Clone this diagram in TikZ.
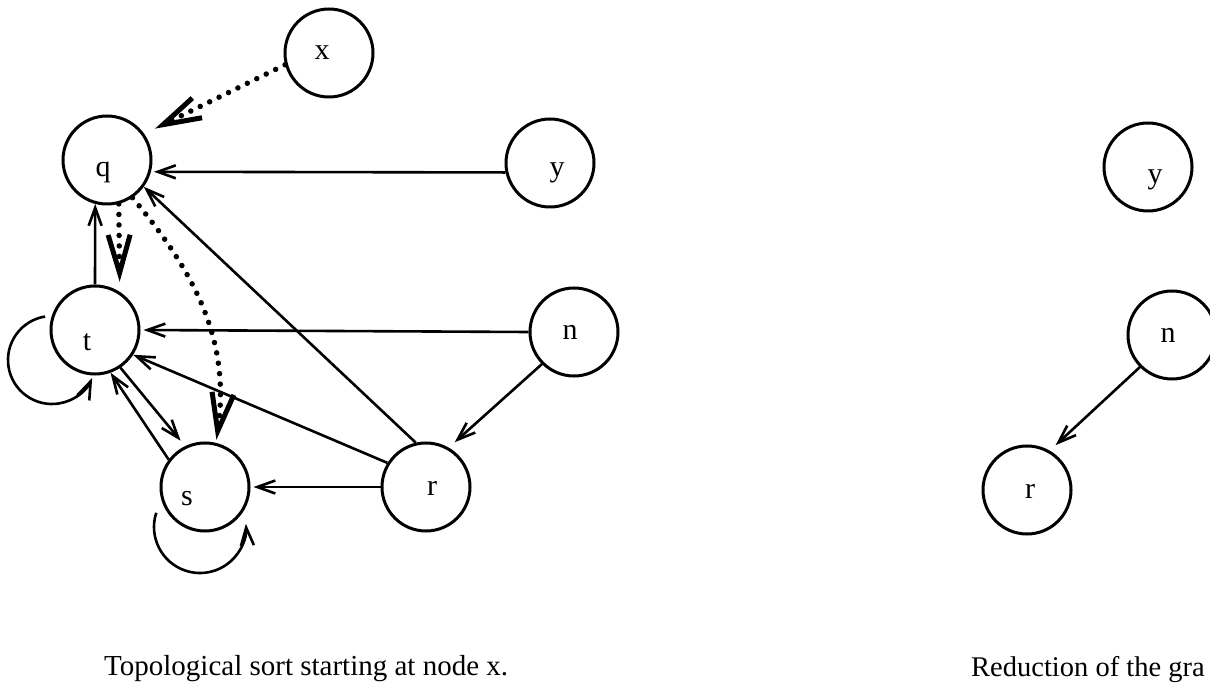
\documentclass[tikz,border=0pt]{standalone}
\usepackage{fontspec}
\setmainfont{Liberation Serif}
\usetikzlibrary{arrows.meta,calc}
\tikzset{
  state/.style={circle, draw, line width=3pt, minimum size=88pt, inner sep=0pt},
  lbl/.style={font=\fontsize{30}{33}\selectfont},
  lab/.style n args={3}{label={[lbl,anchor=base,inner sep=0pt,shift={(#1,#2)}]center:#3}},
  arr/.style={line width=2.6pt, -{Straight Barb[length=18pt,width=13pt,line width=2.6pt]}},
  dotarr/.style={line width=5.5pt, line cap=round, dash pattern=on 0pt off 10.5pt,
    -{Straight Barb[length=38pt,width=22pt,line width=5pt]}},
  caption/.style={anchor=base west, inner sep=0pt, font=\fontsize{29}{32}\selectfont},
}
\begin{document}
\begin{tikzpicture}[x=1pt,y=1pt]
\useasboundingbox (0,0) rectangle (1210,689);
% left graph
\node[state,lab={-7}{0}{x}]   (x) at (329,636) {};
\node[state,lab={-4}{-12}{q}] (q) at (107,529) {};
\node[state,lab={7}{-10}{y}]  (y) at (550,526) {};
\node[state,lab={-8}{-12}{t}] (t) at (95,359) {};
\node[state,lab={-4}{0}{n}]   (n) at (574,357) {};
\node[state,lab={-18}{-12}{s}] (s) at (205,202) {};
\node[state,lab={6}{-1}{r}]   (r) at (426,202) {};
% right graph
\node[state,lab={7}{-13}{y}]  (y2) at (1148,522) {};
\node[state,lab={-4}{0}{n}]   (n2) at (1172,354) {};
\node[state,lab={3}{-1}{r}]   (r2) at (1027,199) {};

% edges left
\draw[dotarr, shorten >=12pt] (x.195) -- (q.35);
\draw[arr, shorten >=3pt] (y.192) -- (q.-15);
\draw[arr, shorten >=3pt] (n.180) -- (t.0);
\draw[arr, shorten >=8pt] (n.225) -- (r.60);
\draw[arr] (r.103) -- (q.-36);
\draw[arr] (r.148) -- (t.-33);
\draw[arr, shorten >=3pt] (r.180) -- (s.0);
\draw[arr] (s.143) -- (t.-70);
\draw[arr, shorten >=7pt] (t.-56) -- (s.116);
\draw[arr] (t.90) -- (q.-105);
\draw[dotarr, shorten >=10pt] (q.-75) -- (t.57);
\draw[dotarr, shorten >=3pt] (q.-56) to[out=-50,in=82] (s.76);
\draw[arr] ($(t)+(-43,-30)+(99:44)$) arc[start angle=99,end angle=336,radius=44];
\draw[arr] ($(s)+(-5,-40)+(162:46)$) arc[start angle=162,end angle=364,radius=46];

% edges right
\draw[arr, shorten >=8pt] (n2.225) -- (r2.60);

% captions
\node[caption] (c1) at (104,14) {Topological sort starting at node x.};
\node[caption, font=\fontsize{28.5}{32}\selectfont] (c2) at (971,13) {Reduction of the gra};
\end{tikzpicture}
\end{document}
